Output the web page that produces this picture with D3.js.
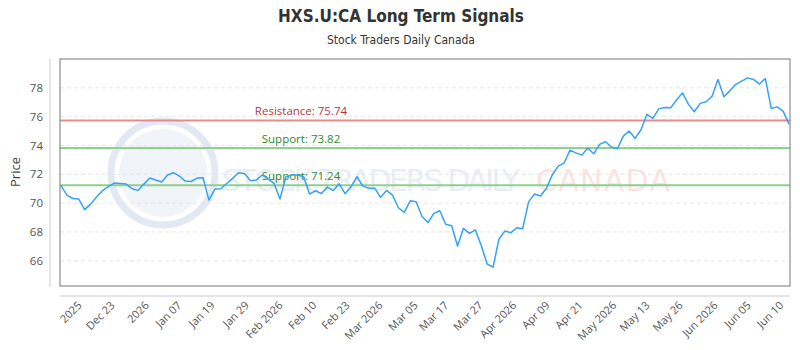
<!DOCTYPE html>
<html>
<head>
<meta charset="utf-8">
<script src="https://cdn.jsdelivr.net/npm/d3@7"></script>
<style>
  html, body { margin: 0; padding: 0; background: #fff; }
  svg { display: block; }
</style>
</head>
<body>
<svg id="chart" width="800" height="350"></svg>
<script>
// ---- data ----
const prices = [
  71.22, 70.56, 70.32, 70.28, 69.55, 69.93, 70.42, 70.87, 71.15, 71.39,
  71.36, 71.32, 71.01, 70.87, 71.32, 71.74, 71.60, 71.46, 71.95, 72.11,
  71.88, 71.53, 71.50, 71.74, 71.76, 70.21, 70.98, 71.00, 71.36, 71.72,
  72.11, 72.06, 71.56, 71.60, 71.95, 71.67, 71.37, 70.28, 71.83, 71.95,
  71.95, 71.83, 70.63, 70.86, 70.66, 71.11, 70.87, 71.34, 70.66, 71.13,
  71.83, 71.18, 71.04, 71.04, 70.40, 70.88, 70.56, 69.68, 69.36, 70.16,
  70.09, 69.07, 68.65, 69.29, 69.47, 68.53, 68.43, 67.02, 68.25, 67.90,
  68.15, 67.06, 65.77, 65.57, 67.51, 68.06, 67.94, 68.29, 68.22, 70.09,
  70.63, 70.49, 71.02, 71.95, 72.57, 72.78, 73.68, 73.49, 73.33, 73.82,
  73.42, 74.08, 74.26, 73.89, 73.77, 74.65, 75.00, 74.49, 75.09, 76.16,
  75.88, 76.54, 76.64, 76.61, 77.15, 77.65, 76.87, 76.34, 76.92, 77.03,
  77.42, 78.58, 77.38, 77.79, 78.24, 78.46, 78.69, 78.58, 78.26, 78.65,
  76.57, 76.68, 76.38, 75.48
];
const tickLabels = ["2025", "Dec 23", "2026", "Jan 07", "Jan 19", "Jan 29", "Feb 2026", "Feb 10",
  "Feb 23", "Mar 2026", "Mar 05", "Mar 17", "Mar 27", "Apr 2026", "Apr 09", "Apr 21",
  "May 2026", "May 13", "May 26", "Jun 2026", "Jun 05", "Jun 10"];
const tickIndex = [3.55, 9.1, 14.9, 20.4, 26.0, 31.8, 37.5, 43.2, 48.8, 54.4, 60.3,
  65.5, 71.3, 77.0, 82.6, 88.2, 93.9, 99.5, 105.1, 111.0, 116.6, 122.1];
const yTicks = [66, 68, 70, 72, 74, 76, 78];
const levelNames = ["Resistance", "Support", "Support"];
const levelValues = [75.74, 73.82, 71.24];
const titleText = "HXS.U:CA Long Term Signals";
const subtitleText = "Stock Traders Daily Canada";

// ---- layout ----
const svg = d3.select("#chart");
const plot = { left: 60, right: 790, top: 59, bottom: 286 };
const x = d3.scaleLinear().domain([0, prices.length - 1]).range([plot.left + 1, plot.right - 1]);
const y = d3.scaleLinear().domain([64.25, 80]).range([plot.bottom, plot.top]);
const tickFont = "'Open Sans', 'DejaVu Sans', sans-serif";

// title
svg.append("text").attr("x", 401).attr("y", 22).attr("text-anchor", "middle")
  .attr("font-family", "'Liberation Sans Narrow', 'DejaVu Sans Condensed', sans-serif")
  .attr("font-weight", "bold").attr("font-size", 17).attr("fill", "#333").text(titleText);
svg.append("text").attr("x", 401).attr("y", 44).attr("text-anchor", "middle")
  .attr("font-family", "'Liberation Sans Narrow', 'DejaVu Sans Condensed', sans-serif")
  .attr("font-size", 12).attr("fill", "#333").text(subtitleText);

// watermark
const wm = svg.append("g").attr("pointer-events", "none");
wm.append("circle").attr("cx", 163).attr("cy", 173).attr("r", 52)
  .attr("fill", "none").attr("stroke", "#e3e9f3").attr("stroke-width", 7);
wm.append("circle").attr("cx", 163).attr("cy", 173).attr("r", 44)
  .attr("fill", "#f1f4f9");
wm.append("text").attr("x", 222).attr("y", 191)
  .attr("font-family", "'DejaVu Sans', sans-serif").attr("font-size", 30)
  .attr("fill", "#e9edf4").attr("textLength", 298).attr("lengthAdjust", "spacing")
  .text("STOCK TRADERS DAILY");
wm.append("text").attr("x", 536).attr("y", 191)
  .attr("font-family", "'DejaVu Sans', sans-serif").attr("font-size", 30)
  .attr("fill", "#fbe3e3").attr("textLength", 134).attr("lengthAdjust", "spacing")
  .text("CANADA");

// grid
svg.append("g").selectAll("line").data(yTicks).join("line")
  .attr("x1", plot.left).attr("x2", plot.right - 5)
  .attr("y1", d => y(d)).attr("y2", d => y(d))
  .attr("stroke", "#e6e6e6").attr("stroke-dasharray", "4,3").attr("stroke-width", 1);

// level lines
const levelColors = ["#e88a8a", "#8fcf8f", "#8fcf8f"];
const levelTextColors = ["#b23a3a", "#2e8b2e", "#2e8b2e"];
const lv = svg.append("g");
lv.selectAll("line").data(levelValues).join("line")
  .attr("x1", plot.left).attr("x2", plot.right)
  .attr("y1", d => y(d)).attr("y2", d => y(d))
  .attr("stroke", (d, i) => levelColors[i]).attr("stroke-width", 2);
lv.selectAll("text").data(levelValues).join("text")
  .attr("x", 301).attr("y", d => y(d) - 5).attr("text-anchor", "middle")
  .attr("font-family", tickFont).attr("font-size", 11.5)
  .attr("fill", (d, i) => levelTextColors[i])
  .text((d, i) => `${levelNames[i]}: ${d.toFixed(2)}`);

// price line
svg.append("path").datum(prices)
  .attr("fill", "none").attr("stroke", "#35a3f2").attr("stroke-width", 1.5)
  .attr("stroke-linejoin", "round")
  .attr("d", d3.line().x((d, i) => x(i)).y(d => y(d)));

// plot border
svg.append("rect").attr("x", plot.left).attr("y", plot.top)
  .attr("width", plot.right - plot.left).attr("height", plot.bottom - plot.top)
  .attr("fill", "none").attr("stroke", "#777").attr("stroke-width", 1);

// y axis
const yAxis = svg.append("g").attr("transform", "translate(50,0)")
  .call(d3.axisLeft(y).tickValues(yTicks).tickSize(0).tickSizeOuter(0).tickPadding(7));
yAxis.select(".domain").attr("stroke", "#ccc").attr("d", `M0,${plot.top}V${plot.bottom + 1}`);
yAxis.selectAll("text").attr("font-family", tickFont).attr("font-size", 11.5).attr("fill", "#555");

svg.append("text").attr("transform", `translate(20,172) rotate(-90)`)
  .attr("text-anchor", "middle").attr("font-family", tickFont)
  .attr("font-size", 13).attr("fill", "#444").text("Price");

// x axis
const xAxis = svg.append("g").attr("transform", "translate(0,296)")
  .call(d3.axisBottom(x).tickValues(tickIndex).tickFormat((d, i) => tickLabels[i])
    .tickSize(0).tickSizeOuter(0));
xAxis.select(".domain").attr("stroke", "#ccc").attr("d", `M${plot.left},0H${plot.right}`);
xAxis.selectAll("text")
  .attr("x", 0).attr("y", 0).attr("dy", 0)
  .attr("transform", "translate(0,10) rotate(-45)")
  .attr("text-anchor", "end")
  .attr("font-family", tickFont).attr("font-size", 11).attr("fill", "#555");
</script>
</body>
</html>
